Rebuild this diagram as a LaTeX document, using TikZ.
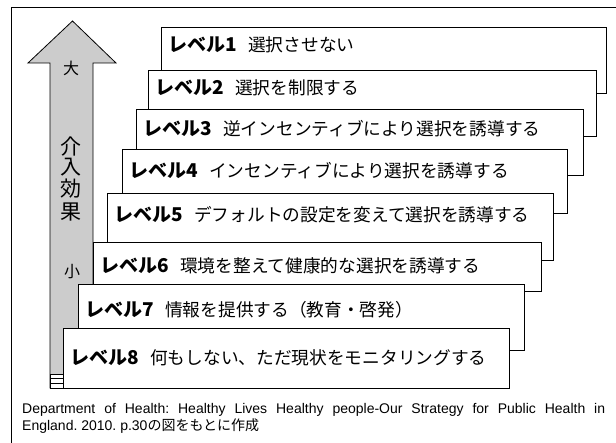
\documentclass[tikz,border=0pt]{standalone}
\usepackage{fontspec}
\setmainfont{Liberation Sans}
\newfontfamily\jp{Noto Sans CJK JP}
\begin{document}
\begin{tikzpicture}[x=1pt,y=-1pt,
  framest/.style={line width=0.8pt},
  arrowst/.style={draw=black,line width=0.8pt,fill=black!20},
  boxst/.style={draw=black,fill=white,line width=0.8pt},
  shadowst/.style={fill=black},
  lblst/.style={anchor=west,inner sep=0pt,font=\jp\fontsize{17.7}{20}\selectfont},
  bigst/.style={inner sep=0pt,font=\jp\fontsize{21}{22}\selectfont},
  smallst/.style={inner sep=0pt,font=\jp\fontsize{16}{18}\selectfont},
  capst/.style={anchor=west,inner sep=0pt,font=\fontsize{14}{16}\selectfont\frenchspacing}]
\useasboundingbox (0,0) rectangle (616,443);
% outer frame
\draw[framest] (11,443) -- (11,7) -- (616,7);
% arrow
\path[arrowst] (50,388) -- (50,63) -- (28,63) -- (72.5,21) -- (116,63) -- (93,63) -- (93,388) -- cycle;
\filldraw[fill=white,draw=black,line width=0.6pt] (50,374) rectangle (63,388);
\draw[line width=0.8pt] (50,378.5) -- (63,378.5) (50,383) -- (63,383);
\node[smallst] (da) at (71,68) {大};
\node[bigst] (k1) at (71,147) {介};
\node[bigst] (k2) at (71,167.5) {入};
\node[bigst] (k3) at (71,189) {効};
\node[bigst] (k4) at (71,212) {果};
\node[smallst] (sho) at (72,272) {小};
% level boxes
\foreach \n/\l/\t/\r/\b/\ty/\txt in {
  1/161/27/606/93/45/選択させない,
  2/148/70/596/136/88/選択を制限する,
  3/136/109/583/175/128.5/逆インセンティブにより選択を誘導する,
  4/122/149/567/213/171/インセンティブにより選択を誘導する,
  5/107/193/553/260/214.5/デフォルトの設定を変えて選択を誘導する,
  6/93/242/541/291/266/環境を整えて健康的な選択を誘導する,
  7/78/284/524/350/310/情報を提供する（教育・啓発）,
  8/63/328/509/388/358/何もしない、ただ現状をモニタリングする}{
  \fill[shadowst] (\l+1,\t+1) rectangle (\r+1.2,\b+1.2);
  \path[boxst] (\l,\t) rectangle (\r,\b);
  \node[lblst] (t\n) at (\l+7,\ty) {\makebox[80pt][l]{\fontsize{19}{20}\selectfont\textbf{レベル\n}}\txt};
}
% caption
\node[capst] (c1) at (22,410) {\makebox[583pt][s]{Department of Health: Healthy Lives Healthy people-Our Strategy for Public Health in}};
\node[capst] (c2) at (22,426) {England. 2010. p.30{\jp の図をもとに作成}};
\end{tikzpicture}
\end{document}
